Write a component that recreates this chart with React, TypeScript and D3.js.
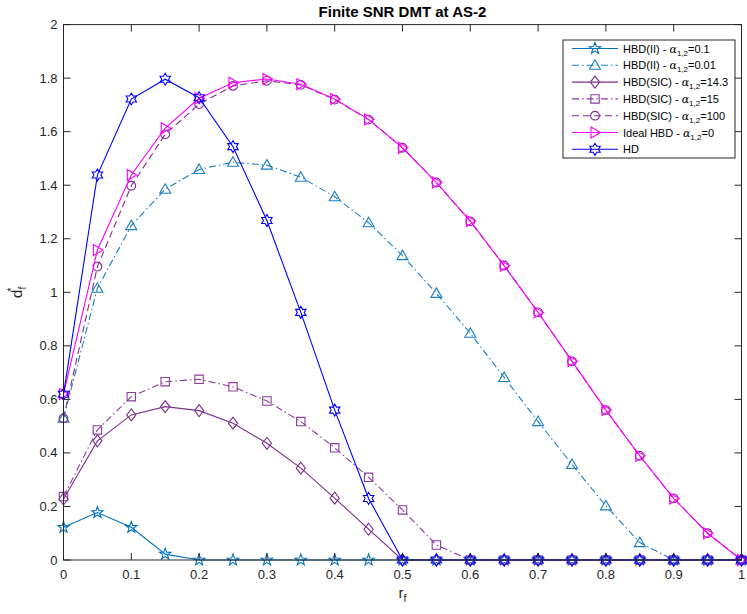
import React from 'react'
import * as d3 from 'd3'

// chart data
const rf = [0, 0.05, 0.1, 0.15, 0.2, 0.25, 0.3, 0.35, 0.4, 0.45, 0.5, 0.55, 0.6, 0.65, 0.7, 0.75, 0.8, 0.85, 0.9, 0.95, 1]
const hbdII_01 = [0.122, 0.177, 0.122, 0.022, 0, 0, 0, 0, 0, 0, 0, 0, 0, 0, 0, 0, 0, 0, 0, 0, 0]
const hbdII_001 = [0.53, 1.015, 1.249, 1.385, 1.459, 1.486, 1.475, 1.43, 1.357, 1.26, 1.137, 0.996, 0.847, 0.682, 0.517, 0.357, 0.202, 0.065, 0, 0, 0]
const sic_143 = [0.228, 0.445, 0.542, 0.573, 0.558, 0.511, 0.436, 0.343, 0.231, 0.115, 0, 0, 0, 0, 0, 0, 0, 0, 0, 0, 0]
const sic_15 = [0.237, 0.486, 0.61, 0.666, 0.675, 0.647, 0.594, 0.517, 0.419, 0.309, 0.187, 0.056, 0, 0, 0, 0, 0, 0, 0, 0, 0]
const sic_100 = [0.529, 1.096, 1.398, 1.59, 1.703, 1.771, 1.79, 1.775, 1.72, 1.645, 1.54, 1.41, 1.265, 1.1, 0.925, 0.742, 0.56, 0.389, 0.23, 0.1, 0]
const idealHbd = [0.62, 1.158, 1.438, 1.613, 1.725, 1.783, 1.797, 1.777, 1.722, 1.646, 1.54, 1.41, 1.266, 1.099, 0.925, 0.743, 0.56, 0.389, 0.23, 0.1, 0]
const hd = [0.619, 1.438, 1.722, 1.796, 1.727, 1.544, 1.268, 0.925, 0.56, 0.23, 0, 0, 0, 0, 0, 0, 0, 0, 0, 0, 0]

const xTicks = [0, 0.1, 0.2, 0.3, 0.4, 0.5, 0.6, 0.7, 0.8, 0.9, 1]
const yTicks = [0, 0.2, 0.4, 0.6, 0.8, 1, 1.2, 1.4, 1.6, 1.8, 2]

type Marker = 'star' | 'triUp' | 'diamond' | 'square' | 'circle' | 'triRight' | 'hexagram'

const series: { name: string; pre: string; post: string; values: number[]; color: string; dash: string; marker: Marker }[] = [
  { name: 'a', pre: 'HBD(II) - ', post: '=0.1', values: hbdII_01, color: '#0072BD', dash: '', marker: 'star' },
  { name: 'b', pre: 'HBD(II) - ', post: '=0.01', values: hbdII_001, color: '#1b7fc3', dash: '7,3,1.5,3', marker: 'triUp' },
  { name: 'c', pre: 'HBD(SIC) - ', post: '=14.3', values: sic_143, color: '#7E2F8E', dash: '', marker: 'diamond' },
  { name: 'd', pre: 'HBD(SIC) - ', post: '=15', values: sic_15, color: '#8a3e9c', dash: '7,3,1.5,3', marker: 'square' },
  { name: 'e', pre: 'HBD(SIC) - ', post: '=100', values: sic_100, color: '#7E2F8E', dash: '7,4', marker: 'circle' },
  { name: 'f', pre: 'Ideal HBD - ', post: '=0', values: idealHbd, color: '#FF00FF', dash: '', marker: 'triRight' },
  { name: 'g', pre: 'HD', post: '', values: hd, color: '#0000FF', dash: '', marker: 'hexagram' },
]

const starPath = (n: number, ro: number, ri: number, rot: number) => {
  const pts: [number, number][] = []
  for (let i = 0; i < n * 2; i++) {
    const r = i % 2 === 0 ? ro : ri
    const a = rot + (Math.PI * i) / n
    pts.push([r * Math.sin(a), -r * Math.cos(a)])
  }
  return 'M' + pts.map((p) => p[0].toFixed(2) + ',' + p[1].toFixed(2)).join('L') + 'Z'
}

const markerPath = (m: Marker) => {
  switch (m) {
    case 'star':
      return starPath(5, 6, 2.4, 0)
    case 'hexagram':
      return starPath(6, 6, 6 / Math.sqrt(3), 0)
    case 'triUp':
      return 'M0,-5.5L5.5,4L-5.5,4Z'
    case 'triRight':
      return 'M-4,-5.5L5.5,0L-4,5.5Z'
    case 'diamond':
      return 'M0,-6L4.6,0L0,6L-4.6,0Z'
    case 'square':
      return 'M-4.2,-4.2L4.2,-4.2L4.2,4.2L-4.2,4.2Z'
    case 'circle':
      return d3.symbol(d3.symbolCircle, 60)() || ''
  }
}

const W = 747
const H = 614
const left = 63.5
const right = 741.5
const top = 24.6
const bottom = 560
const axisColor = '#262626'
const font = 'Liberation Sans, Arial, Helvetica, sans-serif'

const App = () => {
  const x = d3.scaleLinear().domain([0, 1]).range([left, right])
  const y = d3.scaleLinear().domain([0, 2]).range([bottom, top])
  const line = d3
    .line<number>()
    .x((_, i) => x(rf[i]))
    .y((d) => y(d))

  const legX = 563
  const legY = 40
  const legW = 172
  const legH = 118
  const rowH = 16.8

  return (
    <svg width={W} height={H} style={{ position: 'absolute', left: 0, top: 0, background: '#fff' }} fontFamily={font}>
      <rect x={0} y={0} width={W} height={H} fill="#fff" />
      <text x={(left + right) / 2} y={17} textAnchor="middle" fontSize={15} fontWeight="bold" fill="#000">
        Finite SNR DMT at AS-2
      </text>

      {series.map((s) => (
        <g key={s.name}>
          <path d={line(s.values) || ''} fill="none" stroke={s.color} strokeWidth={1.1} strokeDasharray={s.dash || undefined} />
          {s.values.map((v, i) => (
            <path key={i} d={markerPath(s.marker)} transform={`translate(${x(rf[i])},${y(v)})`} fill="none" stroke={s.color} strokeWidth={1.1} />
          ))}
        </g>
      ))}

      {/* axes box and ticks */}
      <rect x={left} y={top} width={right - left} height={bottom - top} fill="none" stroke={axisColor} strokeWidth={1} />
      {xTicks.map((t) => (
        <g key={'x' + t}>
          <line x1={x(t)} x2={x(t)} y1={bottom} y2={bottom - 7} stroke={axisColor} />
          <line x1={x(t)} x2={x(t)} y1={top} y2={top + 7} stroke={axisColor} />
          <text x={x(t)} y={bottom + 19} textAnchor="middle" fontSize={13} fill={axisColor}>
            {t}
          </text>
        </g>
      ))}
      {yTicks.map((t) => (
        <g key={'y' + t}>
          <line x1={left} x2={left + 7} y1={y(t)} y2={y(t)} stroke={axisColor} />
          <line x1={right} x2={right - 7} y1={y(t)} y2={y(t)} stroke={axisColor} />
          <text x={left - 6} y={y(t) + 4.5} textAnchor="end" fontSize={13} fill={axisColor}>
            {t}
          </text>
        </g>
      ))}

      {/* axis labels */}
      <text x={(left + right) / 2} y={598} textAnchor="middle" fontSize={15} fill={axisColor}>
        r<tspan fontSize={10.5} dy={4}>f</tspan>
      </text>
      <text transform={`translate(22,${(top + bottom) / 2}) rotate(-90)`} textAnchor="middle" fontSize={15} fill={axisColor}>
        d<tspan fontSize={10.5} dy={4}>f</tspan>
        <tspan fontSize={10.5} dx={-5} dy={-11}>*</tspan>
      </text>

      {/* legend */}
      <rect x={legX} y={legY} width={legW} height={legH} fill="#fff" stroke={axisColor} strokeWidth={1} />
      {series.map((s, i) => {
        const cy = legY + 8.5 + i * rowH
        return (
          <g key={'l' + s.name}>
            <line x1={legX + 9} x2={legX + 55} y1={cy} y2={cy} stroke={s.color} strokeWidth={1.1} strokeDasharray={s.dash || undefined} />
            <path d={markerPath(s.marker)} transform={`translate(${legX + 32},${cy})`} fill="none" stroke={s.color} strokeWidth={1.1} />
            <text x={legX + 60} y={cy + 4} fontSize={11} fill="#000">
              {s.pre}
              {s.post && (
                <>
                  <tspan fontFamily="DejaVu Serif, serif" fontStyle="italic" fontSize={11}>α</tspan>
                  <tspan fontSize={8} dy={3}>1,2</tspan>
                  <tspan dy={-3}>{s.post}</tspan>
                </>
              )}
            </text>
          </g>
        )
      })}
    </svg>
  )
}

export default App
